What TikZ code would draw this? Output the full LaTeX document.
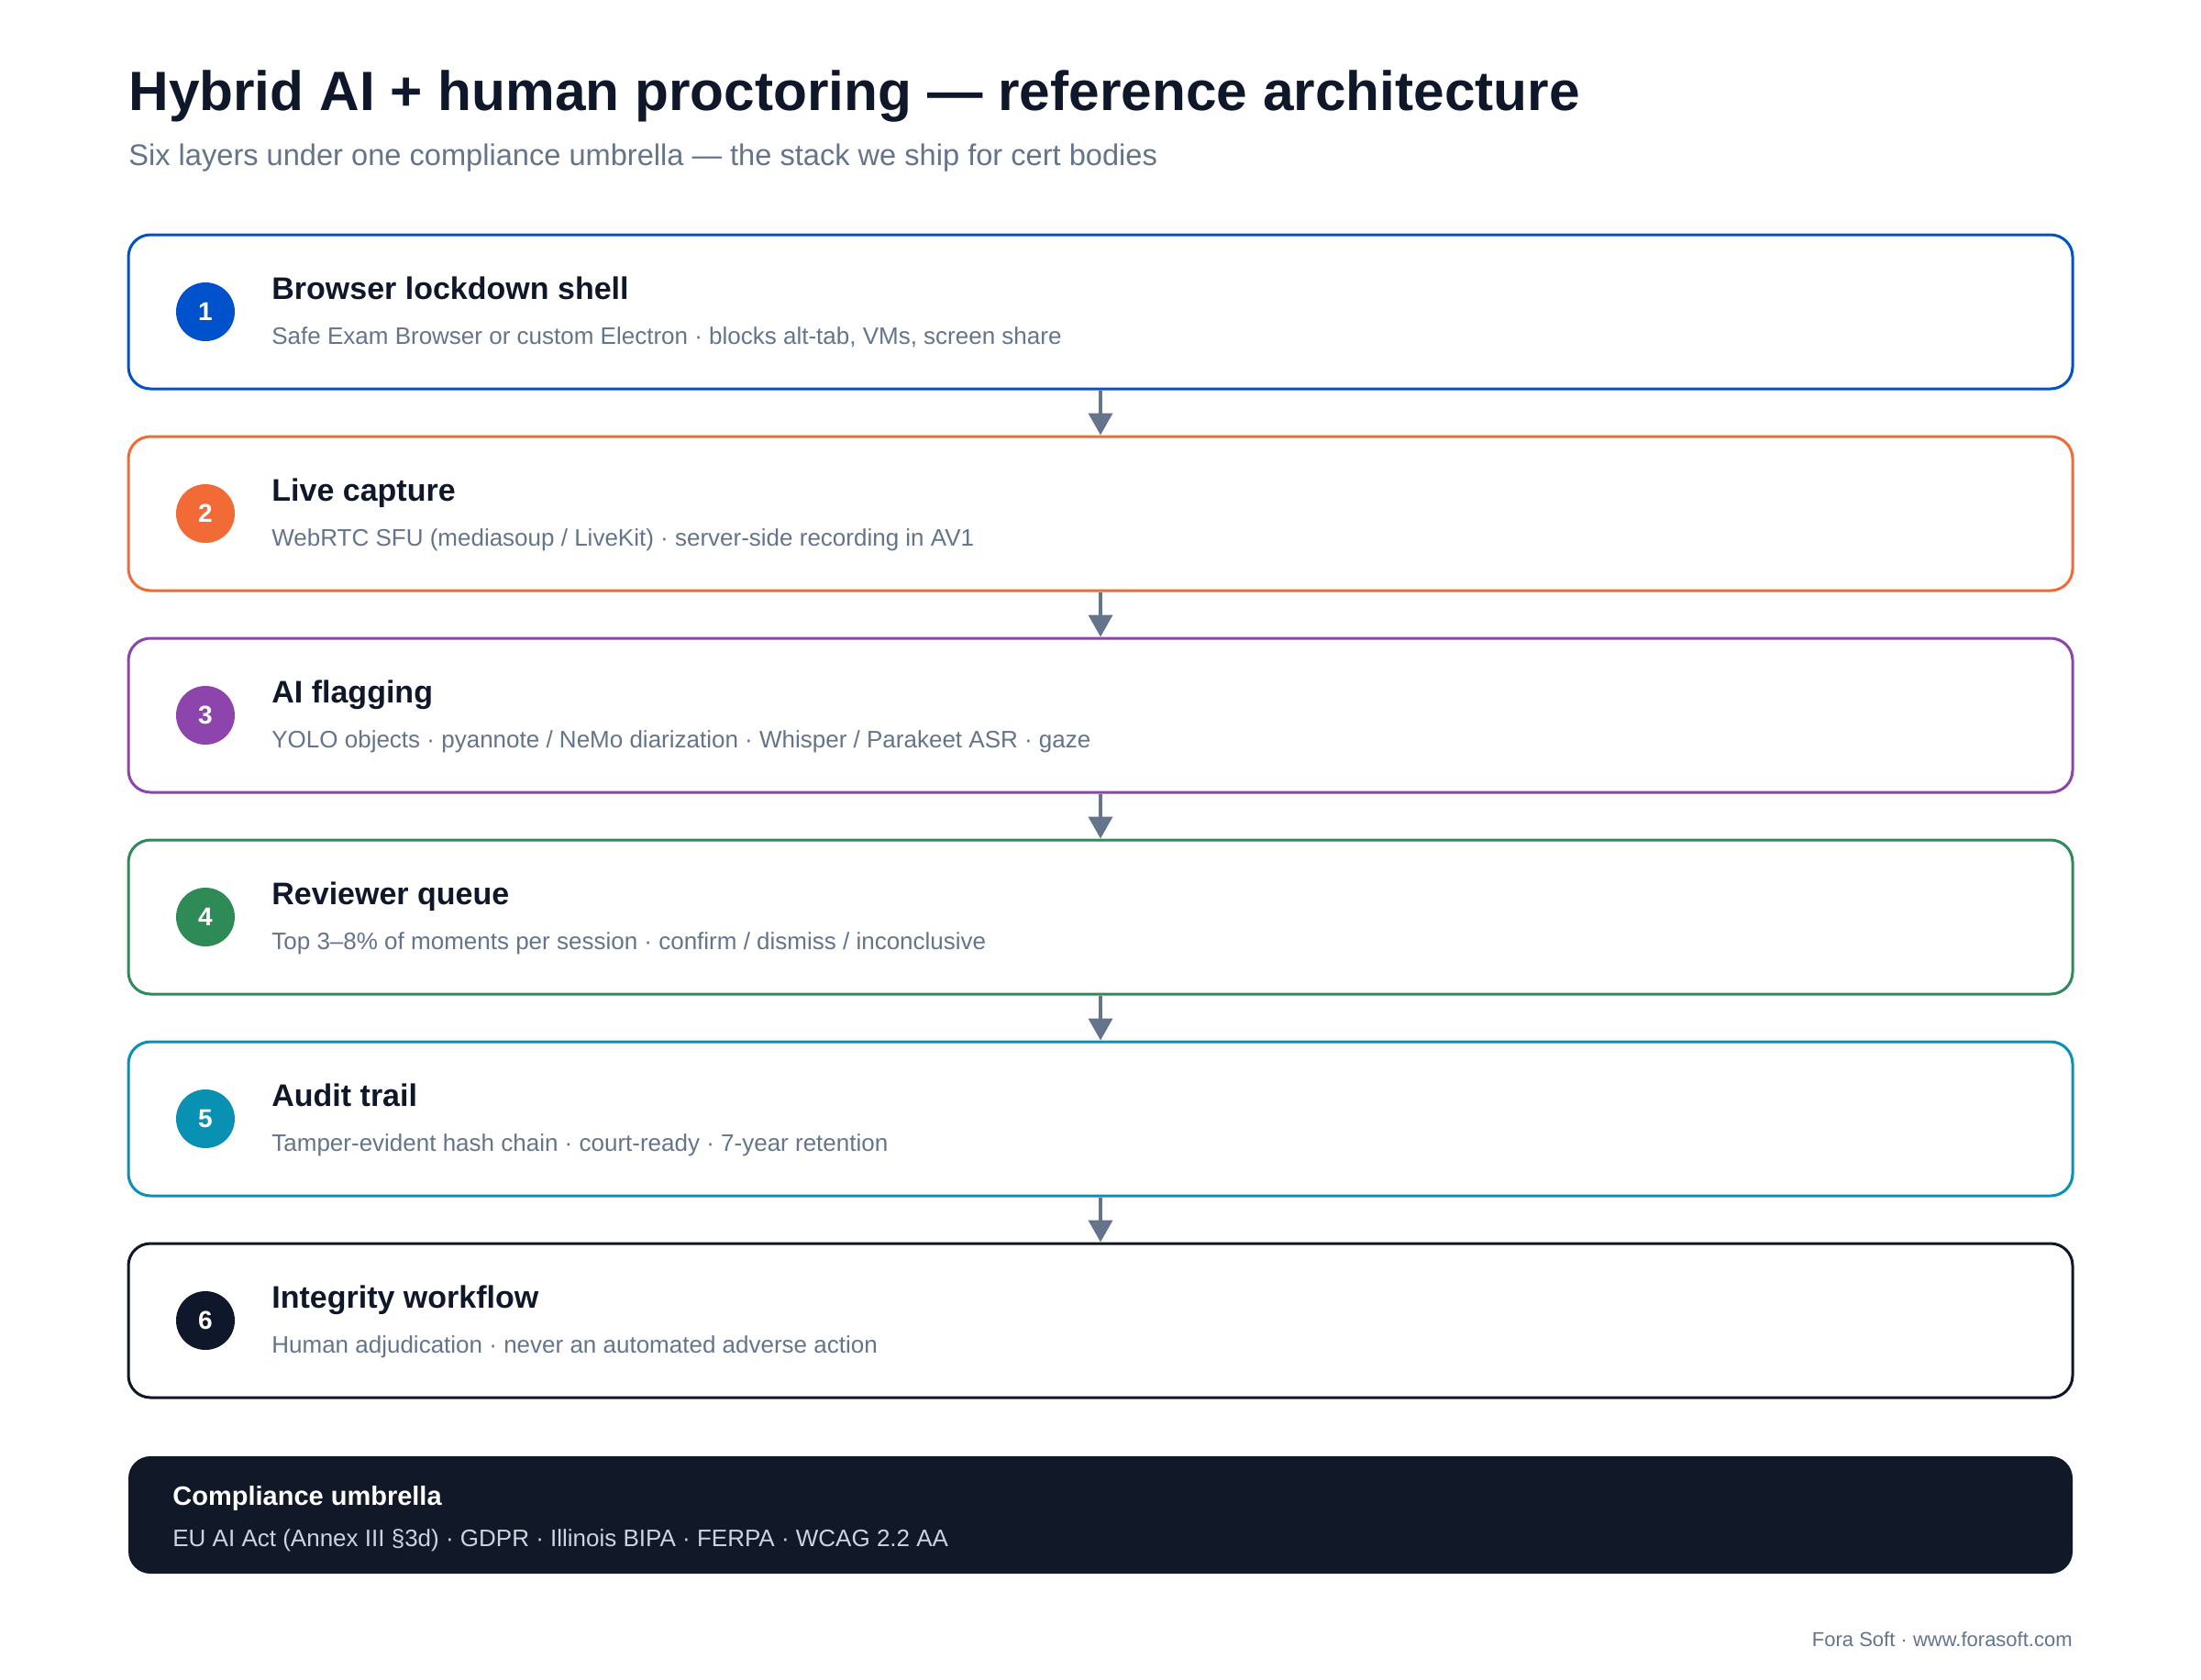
\documentclass[tikz,border=0pt]{standalone}
\usepackage{fontspec}
\setmainfont{Liberation Sans}
\usetikzlibrary{arrows.meta}

\definecolor{ink}{HTML}{0F172A}
\definecolor{slate}{HTML}{64748B}
\definecolor{lblue}{HTML}{0052CC}
\definecolor{lorange}{HTML}{F26A35}
\definecolor{lpurple}{HTML}{8E44AD}
\definecolor{lgreen}{HTML}{2E8B57}
\definecolor{lteal}{HTML}{0891B2}
\definecolor{umbrella}{HTML}{111827}
\definecolor{mist}{HTML}{CBD5E1}

\newcommand{\fs}[1]{\fontsize{#1}{#1}\selectfont}

\tikzset{
    layer/.style={draw=#1, line width=1.5pt, rounded corners=12pt, fill=white,
        minimum width=1060pt, minimum height=84pt, inner sep=0pt},
    badge/.style={circle, fill=#1, minimum size=32pt, inner sep=0pt,
        text=white, font=\bfseries\fs{14}},
    ltitle/.style={anchor=base west, inner sep=0pt, text=ink, font=\bfseries\fs{17}},
    ldesc/.style={anchor=base west, inner sep=0pt, text=slate, font=\fs{13}},
    flow/.style={draw=slate, line width=2pt, -{Triangle[length=12pt, width=13pt]}}
}

\begin{document}
\begin{tikzpicture}[x=1pt, y=-1pt]
    \useasboundingbox[fill=white] (0,0) rectangle (1200,916);

    % Heading
    \node[anchor=base west, inner sep=0pt, text=ink, font=\bfseries\fs{30.2}] (head) at (70,60)
        {Hybrid AI + human proctoring — reference architecture};
    \node[anchor=base west, inner sep=0pt, text=slate, font=\fs{16.3}] (sub) at (70,90)
        {Six layers under one compliance umbrella — the stack we ship for cert bodies};

    % Layer 1
    \node[layer=lblue] (l1) at (600,170) {};
    \node[badge=lblue] (b1) at (112,170) {1};
    \node[ltitle] (t1) at (148,163) {Browser lockdown shell};
    \node[ldesc] (d1) at (148,187.5) {Safe Exam Browser or custom Electron · blocks alt-tab, VMs, screen share};

    % Layer 2
    \node[layer=lorange] (l2) at (600,280) {};
    \node[badge=lorange] (b2) at (112,280) {2};
    \node[ltitle] (t2) at (148,273) {Live capture};
    \node[ldesc] (d2) at (148,297.5) {WebRTC SFU (mediasoup / LiveKit) · server-side recording in AV1};

    % Layer 3
    \node[layer=lpurple] (l3) at (600,390) {};
    \node[badge=lpurple] (b3) at (112,390) {3};
    \node[ltitle] (t3) at (148,383) {AI flagging};
    \node[ldesc] (d3) at (148,407.5) {YOLO objects · pyannote / NeMo diarization · Whisper / Parakeet ASR · gaze};

    % Layer 4
    \node[layer=lgreen] (l4) at (600,500) {};
    \node[badge=lgreen] (b4) at (112,500) {4};
    \node[ltitle] (t4) at (148,493) {Reviewer queue};
    \node[ldesc] (d4) at (148,517.5) {Top 3–8\% of moments per session · confirm / dismiss / inconclusive};

    % Layer 5
    \node[layer=lteal] (l5) at (600,610) {};
    \node[badge=lteal] (b5) at (112,610) {5};
    \node[ltitle] (t5) at (148,603) {Audit trail};
    \node[ldesc] (d5) at (148,627.5) {Tamper-evident hash chain · court-ready · 7-year retention};

    % Layer 6
    \node[layer=ink] (l6) at (600,720) {};
    \node[badge=ink] (b6) at (112,720) {6};
    \node[ltitle] (t6) at (148,713) {Integrity workflow};
    \node[ldesc] (d6) at (148,737.5) {Human adjudication · never an automated adverse action};

    % Flow between layers
    \draw[flow] (l1.south) -- (l2.north);
    \draw[flow] (l2.south) -- (l3.north);
    \draw[flow] (l3.south) -- (l4.north);
    \draw[flow] (l4.south) -- (l5.north);
    \draw[flow] (l5.south) -- (l6.north);

    % Compliance umbrella
    \node[fill=umbrella, rounded corners=12pt, minimum width=1060pt, minimum height=64pt, inner sep=0pt] (cu) at (600,826) {};
    \node[anchor=base west, inner sep=0pt, text=white, font=\bfseries\fs{14.5}] (cut) at (94,820.5) {Compliance umbrella};
    \node[anchor=base west, inner sep=0pt, text=mist, font=\fs{13}] (cud) at (94,843) {EU AI Act (Annex III §3d) · GDPR · Illinois BIPA · FERPA · WCAG 2.2 AA};

    % Footer
    \node[anchor=base east, inner sep=0pt, text=slate, font=\fs{11}] (foot) at (1130,897.5) {Fora Soft · www.forasoft.com};
\end{tikzpicture}
\end{document}
